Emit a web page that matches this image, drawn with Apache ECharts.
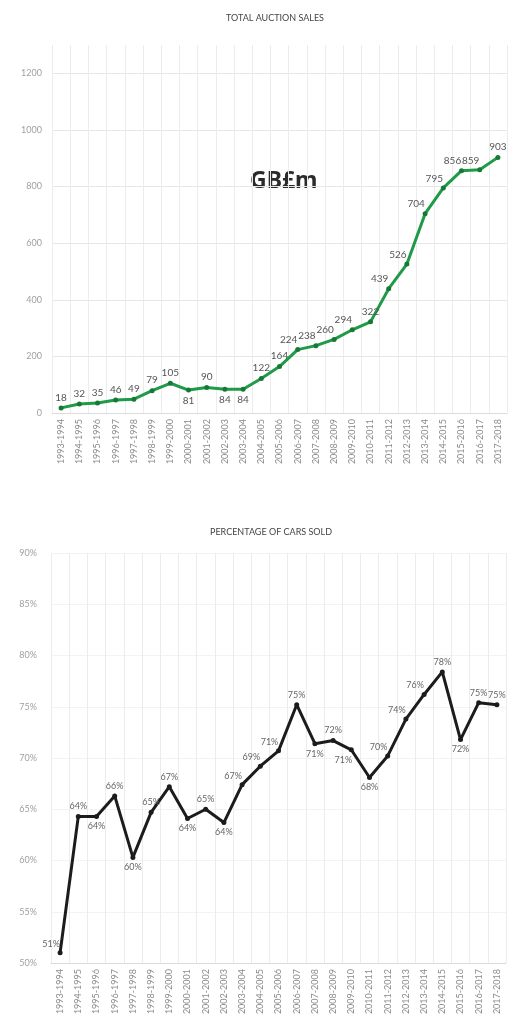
<!DOCTYPE html>
<html>
<head>
<meta charset="utf-8">
<script src="https://cdn.jsdelivr.net/npm/echarts@6/dist/echarts.min.js"></script>
<style>
  html, body { margin: 0; padding: 0; background: #fff; }
  #chart { width: 519px; height: 1035px; }
</style>
</head>
<body>
<div id="chart"></div>
<script>
// seasons on the x axis
var seasons = ['1993-1994', '1994-1995', '1995-1996', '1996-1997', '1997-1998', '1998-1999',
  '1999-2000', '2000-2001', '2001-2002', '2002-2003', '2003-2004', '2004-2005', '2005-2006',
  '2006-2007', '2007-2008', '2008-2009', '2009-2010', '2010-2011', '2011-2012', '2012-2013',
  '2013-2014', '2014-2015', '2015-2016', '2016-2017', '2017-2018']
// total auction sales, GB£m
var salesValues = [18, 32, 35, 46, 49, 79, 105, 81, 90, 84, 84, 122, 164, 224, 238, 260, 294,
  322, 439, 526, 704, 795, 856, 859, 903]
// percentage of cars sold
var soldPct = [51.0, 64.3, 64.3, 66.3, 60.3, 64.7, 67.2, 64.1, 65.0, 63.7, 67.4, 69.2, 70.7,
  75.2, 71.4, 71.7, 70.8, 68.1, 70.2, 73.8, 76.2, 78.4, 71.8, 75.4, 75.2]
var salesTicks = [0, 200, 400, 600, 800, 1000, 1200]
var pctTicks = [50, 55, 60, 65, 70, 75, 80, 85, 90]

var font = 'Lato, "Open Sans", sans-serif'
var chart = echarts.init(document.getElementById('chart'))

// label placement per point
var salesBelow = [7, 9, 10]
var salesLeftUp = [13, 14, 15, 16, 18, 19, 20, 21, 22, 23]
var pctBelow = [2, 4, 7, 9, 14, 17, 22]
var pctLeftUp = [0, 10, 11, 12, 18, 19, 20]
var pctLeftDown = [16]

function labelFor(i, below, leftUp, leftDown) {
  if (below.indexOf(i) >= 0) return { position: 'bottom' }
  if (leftDown && leftDown.indexOf(i) >= 0) return { position: 'bottom', offset: [-8, 0] }
  if (leftUp.indexOf(i) >= 0) return { position: 'top', offset: [-9, 1] }
  return { position: 'top' }
}

var salesData = salesValues.map(function (v, i) {
  return { value: v, label: labelFor(i, salesBelow, salesLeftUp) }
})
var pctData = soldPct.map(function (v, i) {
  return { value: v, label: labelFor(i, pctBelow, pctLeftUp, pctLeftDown) }
})

function xAxisFor(idx) {
  return {
    type: 'category',
    gridIndex: idx,
    data: seasons,
    boundaryGap: true,
    axisTick: { show: false },
    axisLine: { lineStyle: { color: '#dcdcdc' } },
    splitLine: { show: true, lineStyle: { color: '#ececec', width: 1 } },
    axisLabel: { rotate: 90, color: '#8a8a8a', fontSize: 9, fontFamily: font, margin: 6, interval: 0 }
  }
}

chart.setOption({
  animation: false,
  title: [
    { text: 'TOTAL AUCTION SALES', left: 270, top: 9, textAlign: 'center',
      textStyle: { fontSize: 9, fontWeight: 'normal', color: '#444', fontFamily: font } },
    { text: 'PERCENTAGE OF CARS SOLD', left: 266, top: 523, textAlign: 'center',
      textStyle: { fontSize: 9, fontWeight: 'normal', color: '#444', fontFamily: font } }
  ],
  graphic: [
    { type: 'text', left: 250, top: 170,
      style: { text: 'GB£m', fontSize: 23, fontWeight: 'bold', fill: '#2b2b2b', fontFamily: '"Noto Sans", sans-serif' } }
  ],
  grid: [
    { left: 52, right: 12, top: 45, height: 368 },
    { left: 51, right: 13, top: 553, height: 410 }
  ],
  xAxis: [xAxisFor(0), xAxisFor(1)],
  yAxis: [
    {
      type: 'value', gridIndex: 0, min: salesTicks[0], max: 1300, interval: 200,
      axisLine: { show: false }, axisTick: { show: false },
      axisLabel: { color: '#a0a0a0', fontSize: 9, fontFamily: font, margin: 10, showMaxLabel: false,
        formatter: function (v) { return String(v) } },
      splitLine: { lineStyle: { color: ['#e6e6e6', '#e6e6e6', '#e6e6e6', '#e6e6e6', '#e6e6e6', '#e6e6e6', '#e6e6e6', 'rgba(0,0,0,0)'] } }
    },
    {
      type: 'value', gridIndex: 1, min: pctTicks[0], max: pctTicks[pctTicks.length - 1], interval: 5,
      axisLine: { show: false }, axisTick: { show: false },
      axisLabel: { color: '#a0a0a0', fontSize: 9, fontFamily: font, margin: 14, formatter: '{value}%' },
      splitLine: { lineStyle: { color: '#f3f3f3' } }
    }
  ],
  series: [
    {
      name: 'Total auction sales',
      type: 'line',
      xAxisIndex: 0, yAxisIndex: 0,
      data: salesData,
      symbol: 'circle', symbolSize: 5,
      lineStyle: { color: '#1f9a48', width: 3 },
      itemStyle: { color: '#167a36' },
      label: { show: true, color: '#555', fontSize: 10, fontFamily: font, distance: 3 }
    },
    {
      name: 'Percentage of cars sold',
      type: 'line',
      xAxisIndex: 1, yAxisIndex: 1,
      data: pctData,
      symbol: 'circle', symbolSize: 5,
      lineStyle: { color: '#1c1c1c', width: 3 },
      itemStyle: { color: '#1c1c1c' },
      label: {
        show: true, color: '#666', fontSize: 9, fontFamily: font, distance: 3,
        formatter: function (p) { return Math.round(p.value) + '%' }
      }
    }
  ]
})
</script>
</body>
</html>
